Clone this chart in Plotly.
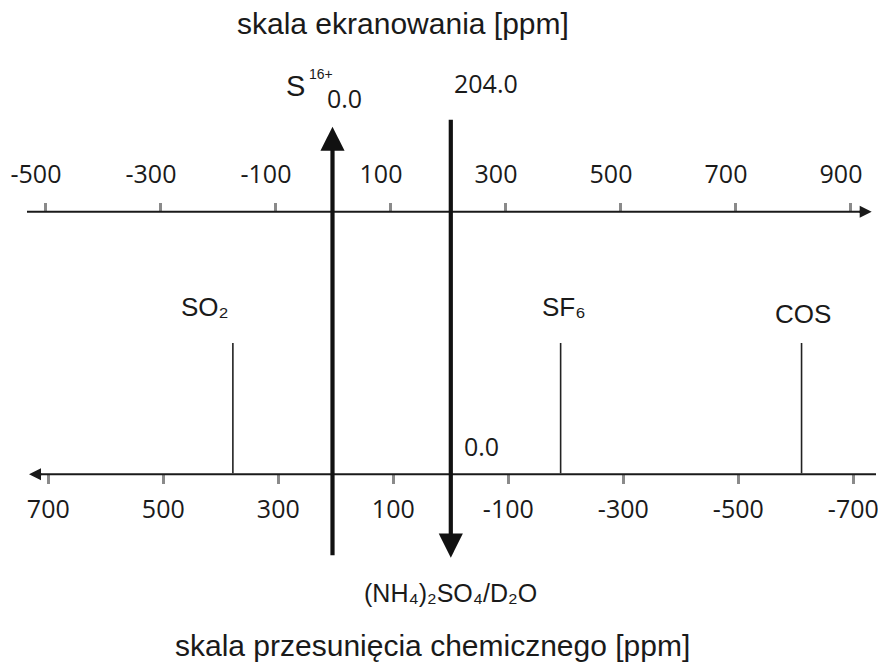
import plotly.graph_objects as go

# ---------------- data ----------------
shield_ticks = [-500, -300, -100, 100, 300, 500, 700, 900]          # skala ekranowania (sigma)
shield_labels = ["-500", "-300", "-100", "100", "300", "500", "700", "900"]
shift_ticks = [700, 500, 300, 100, -100, -300, -500, -700]          # skala przesunięcia (delta)
shift_labels = ["700", "500", "300", "100", "-100", "-300", "-500", "-700"]
compound_names = ["SO₂", "SF₆", "COS"]
compound_shifts = [379, -191, -610]                                # delta [ppm]
ref_sigma_S16 = 0.0          # S16+  (sigma = 0.0)
ref_delta_std = 0.0          # (NH4)2SO4/D2O (delta = 0.0)
ref_sigma_std = 204.0        # sigma of the standard
ref_name_S16 = ("S", "16+")  # element symbol, charge (superscript)
ref_name_std = "(NH₄)₂SO₄/D₂O"

# ---------------- geometry (layout) ----------------
W, H = 878, 668
PX = 0.575                  # pixels per ppm
SIG0 = 332.5                # pixel x of sigma = 0
DEL0 = 450.8                # pixel x of delta = 0
TOP_Y = 211.7               # pixel y of top axis
BOT_Y = 474.3               # pixel y of bottom axis


def sig_at(px):
    return (px - SIG0) / PX


def del_at(px):
    return (DEL0 - px) / PX


INK = "#1a1a1a"
NUMFONT = dict(family="Open Sans", size=25, color=INK)
TXTFONT = "Liberation Sans, DejaVu Sans"

fig = go.Figure()

# compound lines (bottom scale)
for d in compound_shifts:
    fig.add_trace(go.Scatter(x=[d, d], y=[343, BOT_Y - 1], xaxis="x2", yaxis="y",
                             mode="lines", line=dict(color="#222", width=1.6),
                             hoverinfo="skip", showlegend=False))
# invisible trace on the top scale
fig.add_trace(go.Scatter(x=[ref_sigma_S16], y=[TOP_Y], mode="markers",
                         marker=dict(opacity=0), showlegend=False, hoverinfo="skip"))

shapes = [
    dict(type="line", xref="x", yref="y", x0=sig_at(27), x1=sig_at(862),
         y0=TOP_Y, y1=TOP_Y, line=dict(color=INK, width=2)),
    dict(type="line", xref="x2", yref="y", x0=del_at(38), x1=del_at(876),
         y0=BOT_Y, y1=BOT_Y, line=dict(color=INK, width=2)),
]

annotations = []
# compound labels
label_shift = [-28, 3, 1]
label_y = [307, 307, 314]
for name, d, xs, ly in zip(compound_names, compound_shifts, label_shift, label_y):
    annotations.append(dict(x=d, y=ly, xref="x2", yref="y", text=name, showarrow=False,
                            xshift=xs, font=dict(family=TXTFONT, size=26, color=INK),
                            xanchor="center", yanchor="middle"))

# vertical arrow up at sigma = 0 (S16+)
annotations.append(dict(x=ref_sigma_S16, y=126.7, xref="x", yref="y",
                        ax=ref_sigma_S16, ay=556.7, axref="x", ayref="y",
                        text="", showarrow=True, arrowhead=2, arrowsize=1.15,
                        arrowwidth=4.2, arrowcolor="#111"))
# vertical arrow down at delta = 0 (standard)
annotations.append(dict(x=ref_delta_std, y=557.7, xref="x2", yref="y",
                        ax=ref_delta_std, ay=118.3, axref="x2", ayref="y",
                        text="", showarrow=True, arrowhead=2, arrowsize=1.15,
                        arrowwidth=4.2, arrowcolor="#111"))
# axis arrowheads
annotations.append(dict(x=sig_at(871.7), y=TOP_Y, xref="x", yref="y", ax=-14, ay=0,
                        text="", showarrow=True, arrowhead=2, arrowsize=1.2,
                        arrowwidth=2, arrowcolor=INK))
annotations.append(dict(x=del_at(29), y=BOT_Y, xref="x2", yref="y", ax=14, ay=0,
                        text="", showarrow=True, arrowhead=2, arrowsize=1.2,
                        arrowwidth=2, arrowcolor=INK))

# reference labels
annotations.append(dict(x=ref_sigma_S16, y=86, xref="x", yref="y",
                        text=ref_name_S16[0],
                        showarrow=False, xanchor="right", yanchor="middle", xshift=-26,
                        font=dict(family=TXTFONT, size=29, color=INK)))
annotations.append(dict(x=ref_sigma_S16, y=74, xref="x", yref="y",
                        text=ref_name_S16[1],
                        showarrow=False, xanchor="left", yanchor="middle", xshift=-26,
                        font=dict(family=TXTFONT, size=14, color=INK)))
annotations.append(dict(x=ref_sigma_S16, y=98, xref="x", yref="y", text=f"{ref_sigma_S16:.1f}",
                        showarrow=False, xanchor="left", yanchor="middle", xshift=-8,
                        font=NUMFONT))
annotations.append(dict(x=ref_delta_std, y=83, xref="x2", yref="y", text=f"{ref_sigma_std:.1f}",
                        showarrow=False, xanchor="left", yanchor="middle", xshift=1,
                        font=NUMFONT))
annotations.append(dict(x=ref_delta_std, y=446, xref="x2", yref="y", text=f"{ref_delta_std:.1f}",
                        showarrow=False, xanchor="left", yanchor="middle", xshift=11,
                        font=NUMFONT))
annotations.append(dict(x=ref_delta_std, y=593, xref="x2", yref="y",
                        text=ref_name_std,
                        showarrow=False, xanchor="center", yanchor="middle",
                        font=dict(family=TXTFONT, size=25, color=INK)))
# titles
annotations.append(dict(x=403 / W, y=23, xref="paper", yref="y",
                        text="skala ekranowania [ppm]", showarrow=False,
                        xanchor="center", yanchor="middle",
                        font=dict(family=TXTFONT, size=30, color=INK)))
annotations.append(dict(x=432.5 / W, y=645, xref="paper", yref="y",
                        text="skala przesunięcia chemicznego [ppm]", showarrow=False,
                        xanchor="center", yanchor="middle",
                        font=dict(family=TXTFONT, size=30, color=INK)))

fig.update_layout(
    width=W, height=H, margin=dict(l=0, r=0, t=0, b=0, pad=0, autoexpand=False),
    paper_bgcolor="white", plot_bgcolor="white", showlegend=False,
    xaxis=dict(domain=[0, 1], range=[sig_at(0), sig_at(W)],
               side="top", anchor="free", position=1 - TOP_Y / H,
               showline=False, automargin=False,
               ticks="outside", ticklen=9, tickwidth=2.5, tickcolor="#8a8a8a",
               tickmode="array", tickvals=shield_ticks, ticktext=shield_labels,
               tickfont=NUMFONT, ticklabelshift=-9, ticklabelstandoff=10,
               ticklabeloverflow="allow",
               showgrid=False, zeroline=False, fixedrange=True),
    xaxis2=dict(overlaying="x", domain=[0, 1], range=[del_at(0), del_at(W)],
                side="bottom", anchor="free", position=1 - BOT_Y / H,
                showline=False, automargin=False,
                ticks="outside", ticklen=9, tickwidth=2.5, tickcolor="#8a8a8a",
                tickmode="array", tickvals=shift_ticks, ticktext=shift_labels,
                tickfont=NUMFONT, ticklabelstandoff=4, ticklabeloverflow="allow",
                showgrid=False, zeroline=False, fixedrange=True),
    yaxis=dict(domain=[0, 1], range=[H, 0], visible=False, fixedrange=True,
               automargin=False),
    shapes=shapes,
    annotations=annotations,
)

fig.write_html("out.html")
